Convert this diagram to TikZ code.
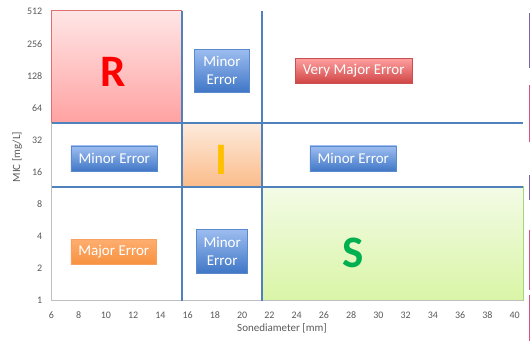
\documentclass[tikz,border=0pt]{standalone}
\usepackage{fontspec}
\setmainfont{Carlito}
\definecolor{tickgray}{HTML}{595959}
\definecolor{axisgray}{HTML}{BFBFBF}
\definecolor{gridblue}{HTML}{4F81BD}
\definecolor{rtop}{HTML}{FFE6E6}
\definecolor{rbot}{HTML}{FFA2A2}
\definecolor{redge}{HTML}{E07070}
\definecolor{itop}{HTML}{FDEBDD}
\definecolor{ibot}{HTML}{FBBC8A}
\definecolor{stop}{HTML}{F3FBE6}
\definecolor{sbot}{HTML}{D9F5A6}
\definecolor{sedge}{HTML}{A9D47E}
\definecolor{bluetop}{HTML}{9DBDF0}
\definecolor{bluebot}{HTML}{3F76C6}
\definecolor{blueedge}{HTML}{5A8ACB}
\definecolor{redtop}{HTML}{FFA0A0}
\definecolor{redbot}{HTML}{D04444}
\definecolor{rededge}{HTML}{C85050}
\definecolor{ortop}{HTML}{FFAE70}
\definecolor{orbot}{HTML}{F79240}
\definecolor{oredge}{HTML}{F8A060}
\definecolor{bigr}{HTML}{FF0000}
\definecolor{bigi}{HTML}{FFC000}
\definecolor{bigs}{HTML}{00B050}
\definecolor{strayp}{HTML}{7A62A8}
\definecolor{strayk}{HTML}{E0507E}
\begin{document}
\begin{tikzpicture}[x=1pt,y=-1pt,
  tick/.style={text=tickgray, inner sep=0pt, font=\fontsize{10}{12}\selectfont},
  axtitle/.style={text=tickgray, inner sep=0pt, font=\fontsize{11}{13}\selectfont},
  errbox/.style={draw, inner sep=0pt, text=white, align=center, line width=0.6pt,
    font=\fontsize{15}{18.3}\selectfont},
  bluebox/.style={errbox, top color=bluetop, bottom color=bluebot, draw=blueedge},
  redbox/.style={errbox, top color=redtop, bottom color=redbot, draw=rededge},
  orbox/.style={errbox, top color=ortop, bottom color=orbot, draw=oredge},
  gridline/.style={draw=gridblue, line width=2pt},
  axisline/.style={draw=axisgray, line width=1pt},
  big/.style={inner sep=0pt, font=\fontsize{45}{45}\bfseries\selectfont},
  stray/.style={line width=1pt}]
\useasboundingbox (0,0) rectangle (530,341);
% corner coordinates
\coordinate (o) at (51.7,300.5);
\coordinate (tl) at (51.7,10.5);
\coordinate (br) at (523,300.5);
% regions
\shade[top color=rtop, bottom color=rbot] (51.7,10.5) rectangle (181.7,122.7);
\draw[redge, line width=0.8pt] (51.7,122.7) -- (51.7,10.5) -- (181.7,10.5);
\shade[top color=itop, bottom color=ibot] (181.7,122.7) rectangle (261.7,186.7);
\shade[top color=stop, bottom color=sbot] (261.7,186.7) rectangle (523,300.5);
\draw[sedge, line width=0.8pt] (261.7,186.7) rectangle (523,300.5);
% axes
\draw[axisline] (51.7,122.7) -- (o) -- (br);
% grid lines
\coordinate (v1t) at (181.7,10.5);
\coordinate (v1b) at (181.7,300.5);
\coordinate (v2t) at (261.7,10.5);
\coordinate (v2b) at (261.7,300.5);
\coordinate (h1l) at (51.7,122.7);
\coordinate (h1r) at (523,122.7);
\coordinate (h2l) at (51.7,186.7);
\coordinate (h2r) at (523,186.7);
\draw[gridline] (v1t) -- (v1b);
\draw[gridline] (v2t) -- (v2b);
\draw[gridline] (h1l) -- (h1r);
\draw[gridline] (h2l) -- (h2r);
% y ticks
\foreach \v [count=\k from 0] in {1,2,4,8,16,32,64,128,256,512}
  \node[tick, anchor=east] (yt\k) at (42.5, 300.5-32.1*\k) {\v};
% x ticks
\foreach \v in {6,8,...,40}
  \node[tick] (xt\v) at (51.5+13.62*\v-13.62*6, 315) {\v};
\node[axtitle] (xtitle) at (282,328.5) {Sonediameter [mm]};
\node[axtitle, rotate=90] (ytitle) at (17,157) {MIC [mg/L]};
% big letters
\node[big, text=bigr] (R) at (113.5,71.5) {R};
\node[big, text=bigi] (I) at (221.5,159.5) {I};
\node[big, text=bigs] (S) at (353.5,252.5) {S};
% error boxes
\node[bluebox, minimum width=55.4pt, minimum height=43.3pt] (m1) at (222,70.7) {Minor\\Error};
\node[redbox, minimum width=117.3pt, minimum height=25pt] (vm) at (353.7,70.8) {Very Major Error};
\node[bluebox, minimum width=86.7pt, minimum height=25.7pt] (m2) at (114.3,158.8) {Minor Error};
\node[bluebox, minimum width=86.7pt, minimum height=25.7pt] (m3) at (353.3,158.8) {Minor Error};
\node[orbox, minimum width=85.7pt, minimum height=25pt] (mj) at (113.8,251.5) {Major Error};
\node[bluebox, minimum width=51pt, minimum height=44pt] (m4) at (222.2,251.3) {Minor\\Error};
% stray edge marks at the right border
\draw[stray, strayp] (529.3,13) -- (529.3,68);
\draw[stray, strayk] (529.3,85) -- (529.3,142);
\draw[stray, strayp] (529.3,175) -- (529.3,200);
\draw[stray, strayk] (529.3,230) -- (529.3,290);
\draw[stray, strayk] (529.3,295) -- (529.3,341);
\end{tikzpicture}
\end{document}
